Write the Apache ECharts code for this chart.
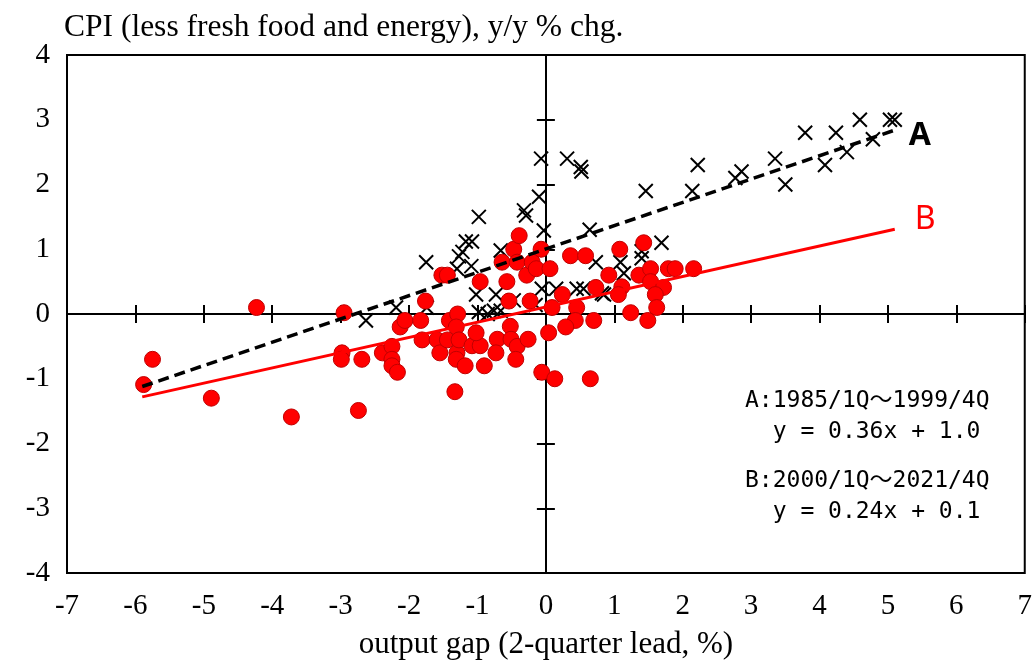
<!DOCTYPE html>
<html>
<head>
<meta charset="utf-8">
<script src="https://cdn.jsdelivr.net/npm/echarts@6/dist/echarts.min.js"></script>
<style>html,body{margin:0;padding:0;background:#fff;}#chart{width:1035px;height:665px;}</style>
</head>
<body>
<div id="chart"></div>
<script>
// Period A: 1985/1Q-1999/4Q (crosses)
const gapA = [5.10,5.03,4.59,3.79,4.24,4.78,4.40,4.08,3.35,3.50,2.86,2.77,2.22,2.14,1.46,0.31,0.51,0.52,-0.07,-0.10,
  -0.03,0.64,1.69,0.73,1.09,1.14,1.40,1.40,0.85,-0.32,-0.29,-0.98,-0.66,-1.17,-1.08,-1.27,-1.22,-1.75,-1.09,-1.30,
  -1.02,-0.73,-0.06,0.15,0.45,0.55,-0.47,-0.76,-0.66,-0.15,-0.98,-2.19,-1.74,-2.63,0.82,-0.85];
const cpiA = [3.0,3.0,3.0,2.8,2.8,2.7,2.5,2.3,2.4,2.0,2.2,2.1,2.3,1.9,1.9,2.4,2.27,2.2,2.4,1.81,
  1.29,1.3,1.1,0.8,0.8,0.63,0.97,0.86,0.3,1.6,1.52,1.5,0.98,1.12,1.12,0.89,0.96,0.8,0.74,0.70,
  0.3,0.3,0.39,0.39,0.39,0.39,0.21,0.05,0.05,0.14,0.03,0.1,0.1,-0.1,0.32,0.0];
// Period B: 2000/1Q-2021/4Q (red dots)
const gapB = [-5.88,-5.75,-4.89,-4.23,-3.72,-2.95,-2.98,-2.99,-2.74,-2.69,-2.39,-2.25,-2.25,-2.25,-2.17,-2.13,-2.06,-1.83,-1.76,-1.81,
  -1.59,-1.55,-1.44,-1.41,-1.29,-1.31,-1.30,-1.31,-1.27,-1.33,-1.18,-1.08,-0.96,-1.02,-0.90,-0.71,-0.73,-0.52,-0.51,-0.42,
  -0.44,-0.26,0.04,-0.06,0.13,0.65,-1.52,-1.44,-0.96,-0.64,-0.57,-0.54,-0.47,-0.39,-0.42,-0.28,-0.20,-0.14,-0.07,-0.23,
  0.06,0.09,0.36,0.58,1.08,1.43,0.92,1.36,1.53,1.79,1.89,2.16,0.24,0.45,0.73,1.11,1.06,1.53,1.72,1.60,
  1.62,1.24,0.43,0.70,1.49,0.29];
const cpiB = [-1.09,-0.70,-1.30,0.10,-1.59,0.02,-0.60,-0.70,-1.49,-0.70,-0.60,-0.50,-0.70,-0.80,-0.90,-0.20,-0.10,-0.10,0.20,-0.40,
  -0.40,-0.60,-0.40,-0.10,0.00,-0.20,-0.60,-0.70,-0.40,-1.20,-0.80,-0.49,-0.49,-0.29,-0.80,-0.39,-0.60,-0.19,-0.39,-0.50,
  -0.70,-0.39,-0.29,-0.90,-1.00,-1.00,0.60,0.60,0.50,0.80,0.50,0.20,1.00,1.21,0.80,0.60,0.80,0.70,1.00,0.20,
  0.70,0.10,0.90,0.90,1.00,1.10,0.60,0.60,0.70,0.70,0.70,0.70,0.30,0.10,0.41,0.42,0.30,0.50,0.41,0.30,
  0.10,0.02,-0.10,-0.10,-0.10,-0.20];
// Fitted lines (end points)
const fitAx = [-5.9, 5.1], fitAy = [-1.12, 2.84];
const fitBx = [-5.9, 5.1], fitBy = [-1.28, 1.31];
const xTicks = {min:-7, max:7, step:1};
const yTicks = {min:-4, max:4, step:1};
const annot = ['A:1985/1Q～1999/4Q', '  y = 0.36x + 1.0', 'B:2000/1Q～2021/4Q', '  y = 0.24x + 0.1'];

const zip = (a,b) => a.map((v,i)=>[v,b[i]]);
const serif = 'Liberation Serif';
const mono = '"DejaVu Sans Mono", "Noto Sans CJK JP", monospace';

function xAxisBase(extra){
  return Object.assign({type:'value', min:xTicks.min, max:xTicks.max, interval:xTicks.step, position:'bottom',
    splitLine:{show:false}}, extra);
}
function yAxisBase(extra){
  return Object.assign({type:'value', min:yTicks.min, max:yTicks.max, interval:yTicks.step, position:'left',
    splitLine:{show:false}}, extra);
}
const zeroLine = {show:true, onZero:true, onZeroAxisIndex:0, lineStyle:{color:'#000', width:2}};

const chart = echarts.init(document.getElementById('chart'), null, {renderer:'canvas'});
chart.setOption({
  animation:false,
  backgroundColor:'#fff',
  title:{text:'CPI (less fresh food and energy), y/y % chg.', left:59, top:7,
    textStyle:{fontFamily:serif, fontSize:31.5, fontWeight:'normal', color:'#000'}},
  grid:{left:67, right:8, top:55, bottom:88, show:true, borderColor:'#000', borderWidth:2, backgroundColor:'transparent'},
  xAxis:[
    xAxisBase({axisLine:{show:false, onZero:false}, axisTick:{show:false},
      axisLabel:{show:true, margin:19, fontFamily:serif, fontSize:29, color:'#000'},
      name:'output gap (2-quarter lead, %)', nameLocation:'middle', nameGap:56,
      nameTextStyle:{fontFamily:serif, fontSize:31, color:'#000'}}),
    xAxisBase({axisLine:zeroLine, axisTick:{show:true, inside:true, length:9, lineStyle:{color:'#000', width:2}}, axisLabel:{show:false}}),
    xAxisBase({axisLine:zeroLine, axisTick:{show:true, inside:false, length:9, lineStyle:{color:'#000', width:2}}, axisLabel:{show:false}})
  ],
  yAxis:[
    yAxisBase({axisLine:{show:false, onZero:false}, axisTick:{show:false},
      axisLabel:{show:true, margin:17, fontFamily:serif, fontSize:29, color:'#000'}}),
    yAxisBase({axisLine:zeroLine, axisTick:{show:true, inside:true, length:9, lineStyle:{color:'#000', width:2}}, axisLabel:{show:false}}),
    yAxisBase({axisLine:zeroLine, axisTick:{show:true, inside:false, length:9, lineStyle:{color:'#000', width:2}}, axisLabel:{show:false}})
  ],
  series:[
    {type:'scatter', xAxisIndex:0, yAxisIndex:0, data:zip(gapA, cpiA),
      symbol:'path://M0,0L10,10M10,0L0,10', symbolSize:14,
      itemStyle:{color:'rgba(0,0,0,0)', borderColor:'#000', borderWidth:2, opacity:1}, z:3},
    {type:'scatter', xAxisIndex:0, yAxisIndex:0, data:zip(gapB, cpiB),
      symbol:'circle', symbolSize:16,
      itemStyle:{color:'#ff0000', borderColor:'#c00000', borderWidth:1, opacity:1}, z:4},
    {type:'line', xAxisIndex:0, yAxisIndex:0, data:zip(fitAx, fitAy), showSymbol:false, symbol:'none',
      lineStyle:{color:'#000', width:3.5, type:[11,6]}, z:5,
      endLabel:{show:true, formatter:'A', distance:14, offset:[0,6], color:'#000', fontSize:32, fontWeight:'bold', fontFamily:'Noto Sans'}},
    {type:'line', xAxisIndex:0, yAxisIndex:0, data:zip(fitBx, fitBy), showSymbol:false, symbol:'none',
      lineStyle:{color:'#ff0000', width:3}, z:5,
      endLabel:{show:true, formatter:'B', distance:20, offset:[0,-9], color:'#ff0000', fontSize:32, fontWeight:'normal', fontFamily:'Noto Sans'}}
  ],
  graphic:[
    {type:'text', left:745, top:390, style:{text:annot[0], font:'23px '+mono, fill:'#000'}},
    {type:'text', left:745, top:421, style:{text:annot[1], font:'23px '+mono, fill:'#000'}},
    {type:'text', left:745, top:470, style:{text:annot[2], font:'23px '+mono, fill:'#000'}},
    {type:'text', left:745, top:501, style:{text:annot[3], font:'23px '+mono, fill:'#000'}}
  ]
});
</script>
</body>
</html>
